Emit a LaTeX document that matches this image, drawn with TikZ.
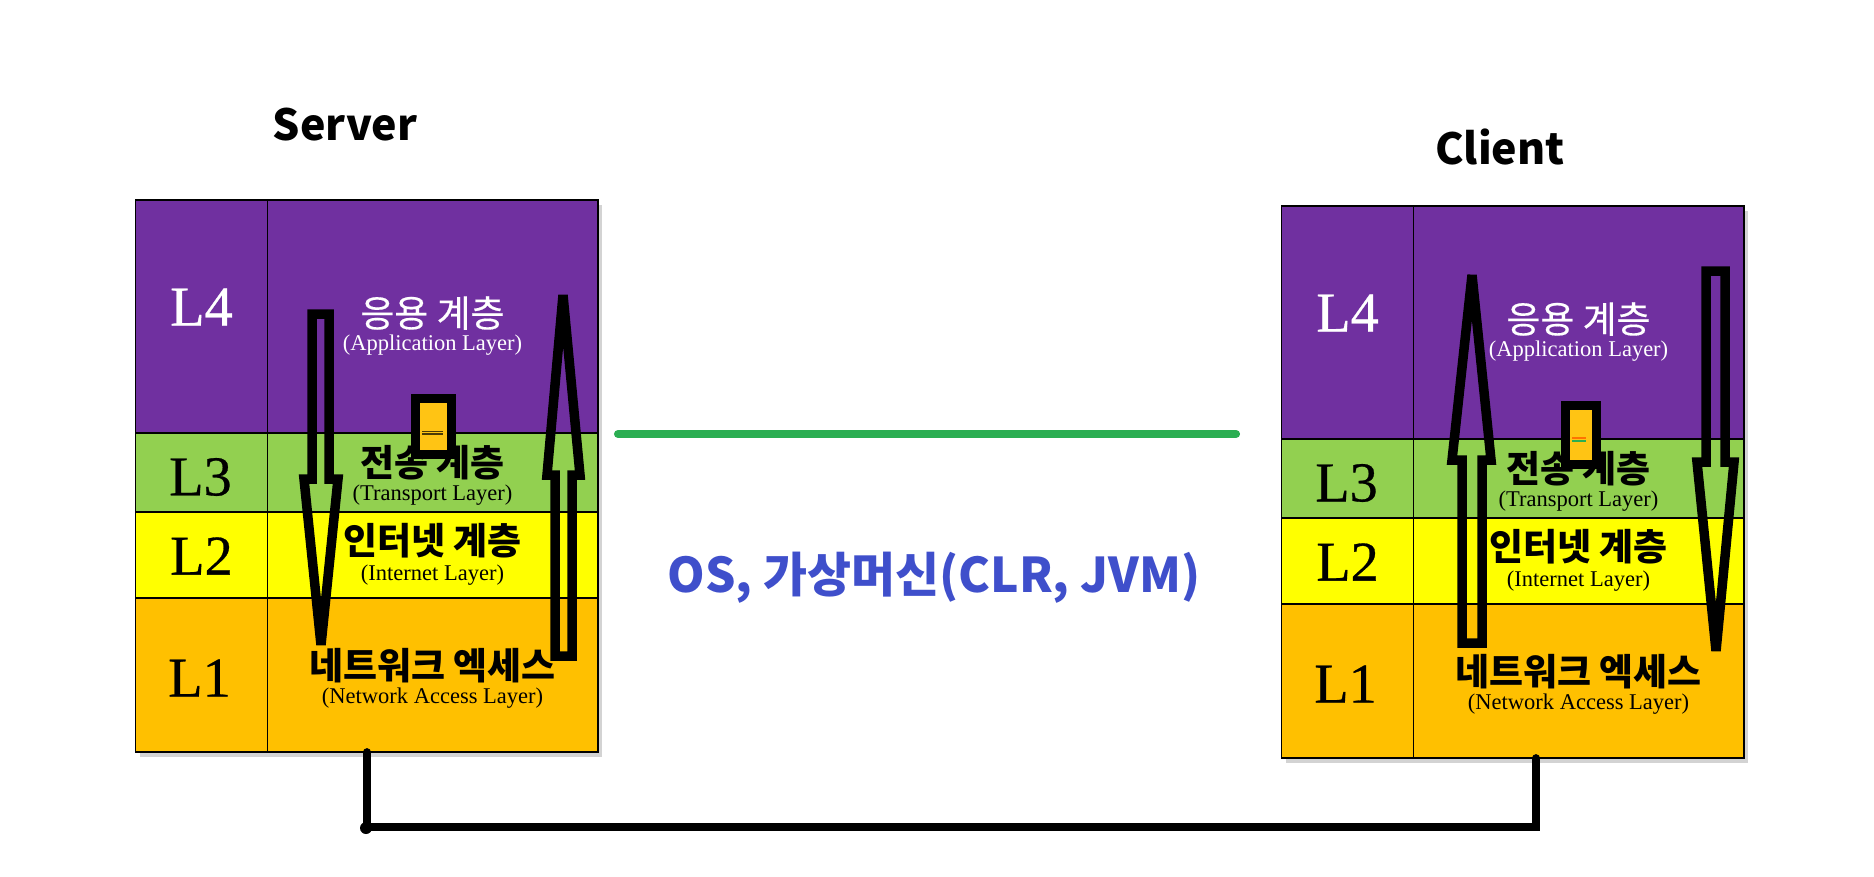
\documentclass[tikz,border=0pt]{standalone}
\usepackage{fontspec}
\usepackage{tikz}
\usetikzlibrary{shadows}
\setmainfont{Liberation Serif}
\newfontfamily\tagfont[FakeBold=0.5]{Liberation Serif}
\newfontfamily\krfont{Noto Sans CJK KR}
\newfontfamily\krlight[FakeBold=0.4]{Noto Sans CJK KR}
\definecolor{applayer}{HTML}{7030A0}
\definecolor{translayer}{HTML}{92D050}
\definecolor{netlayer}{HTML}{FFFF00}
\definecolor{linklayer}{HTML}{FFC000}
\definecolor{packet}{HTML}{FFC414}
\definecolor{wire}{HTML}{2BAE52}
\definecolor{osblue}{HTML}{3F4FCB}

% one layer table, its top left corner at (0,0) of the scope
\newcommand{\layerstack}{
  \node[frame, minimum height=5.52cm, drop shadow={shadow xshift=0.045cm, shadow yshift=-0.045cm, opacity=0.35}] (frame) at (0,0) {};
  \node[cell, fill=applayer, minimum width=1.32cm, minimum height=2.33cm] (L4a) at (0,0) {};
  \node[cell, fill=applayer, minimum width=3.30cm, minimum height=2.33cm] (L4b) at (132,0) {};
  \node[cell, fill=translayer, minimum width=1.32cm, minimum height=0.79cm] (L3a) at (0,233) {};
  \node[cell, fill=translayer, minimum width=3.30cm, minimum height=0.79cm] (L3b) at (132,233) {};
  \node[cell, fill=netlayer, minimum width=1.32cm, minimum height=0.86cm] (L2a) at (0,312) {};
  \node[cell, fill=netlayer, minimum width=3.30cm, minimum height=0.86cm] (L2b) at (132,312) {};
  \node[cell, fill=linklayer, minimum width=1.32cm, minimum height=1.54cm] (L1a) at (0,398) {};
  \node[cell, fill=linklayer, minimum width=3.30cm, minimum height=1.54cm] (L1b) at (132,398) {};

  \node[tag, white] (t4) at (66,107) {L4};
  \node[tag] (t3) at (65,277) {L3};
  \node[tag] (t2) at (66,356) {L2};
  \node[tag] (t1) at (64,478) {L1};

  \node[kr, white] (k4) at (297,113) {응용 계층};
  \node[en, white] (e4) at (297,145) {(Application Layer)};
  \node[krdark] (k3) at (297,263) {전송 계층};
  \node[en] (e3) at (297,295) {(Transport Layer)};
  \node[krdark] (k2) at (297,341) {인터넷 계층};
  \node[en] (e2) at (297,375) {(Internet Layer)};
  \node[krdark] (k1) at (297,466) {네트워크 엑세스};
  \node[en] (e1) at (297,498) {(Network Access Layer)};
}

\begin{document}
\begin{tikzpicture}[x=0.01cm, y=-0.01cm,
  frame/.style={draw=black, fill=white, line width=0.5pt, minimum width=4.62cm, anchor=north west, inner sep=0pt, outer sep=0pt},
  cell/.style={draw=black, line width=0.5pt, anchor=north west, inner sep=0pt, outer sep=0pt},
  tag/.style={inner sep=0pt, font=\tagfont\fontsize{16}{18}\selectfont},
  kr/.style={inner sep=0pt, font=\krlight\fontsize{10.5}{12}\selectfont},
  krdark/.style={inner sep=0pt, font=\krfont\bfseries\fontsize{10.5}{12}\selectfont},
  en/.style={inner sep=0pt, font=\fontsize{6.4}{8}\selectfont},
  head/.style={inner sep=0pt, font=\krfont\bfseries\fontsize{12.2}{15}\selectfont},
  blockarrow/.style={draw=black, line width=2.7pt, line join=miter, miter limit=2},
  packetbox/.style={draw=black, fill=packet, line width=2.6pt, anchor=north west, inner sep=0pt},
  cable/.style={draw=black, line width=2.2pt, line cap=round}]
  \useasboundingbox (0,0) rectangle (1874,876);

  \begin{scope}[shift={(135.5,200)}, name prefix=srv]
    \layerstack
  \end{scope}
  \begin{scope}[shift={(1281.5,206)}, name prefix=cli]
    \layerstack
  \end{scope}

  \node[head] (server) at (345,125) {Server};
  \node[head] (client) at (1500,147) {Client};
  \node[head, text=osblue, font=\krfont\bfseries\fontsize{13.6}{15}\selectfont] (runtime) at (934,578) {OS, 가상머신(CLR, JVM)};

  % packets
  \node[packetbox, minimum width=0.36cm, minimum height=0.56cm] (srvpacket) at (411,394) {};
  \node[packetbox, minimum width=0.31cm, minimum height=0.59cm] (clipacket) at (1561,401) {};
  \draw[black!70!packet, line width=0.3pt] (422,431.5) -- (443,431.5) (422,434) -- (443,434);
  \draw[linklayer!60!red, line width=0.3pt] (1572,438) -- (1586,438);
  \draw[wire, line width=0.3pt] (1572,441) -- (1586,441);

  % data going down and up
  \draw[blockarrow] (312,314) -- (329,314) -- (329,479) -- (338,479) -- (321,645) -- (304,479) -- (312,479) -- cycle;
  \draw[blockarrow] (555,656) -- (572,656) -- (572,475) -- (580,475) -- (563,295) -- (547,475) -- (555,475) -- cycle;
  \draw[blockarrow] (1462,643) -- (1482,643) -- (1482,460) -- (1491,460) -- (1472,275) -- (1452,460) -- (1462,460) -- cycle;
  \draw[blockarrow] (1706,271) -- (1725,271) -- (1725,462) -- (1734,462) -- (1716,651) -- (1697,462) -- (1706,462) -- cycle;

  % links
  \coordinate (wirel) at (618,434);
  \coordinate (wirer) at (1236,434);
  \draw[wire, line width=2.3pt, line cap=round] (wirel) -- (wirer);
  \coordinate (cablel) at (367,752);
  \coordinate (cabler) at (1536,758);
  \draw[cable] (cablel) -- (367,827) -- (1536,827) -- (cabler);
  \fill (366,828) circle (6);
\end{tikzpicture}
\end{document}
